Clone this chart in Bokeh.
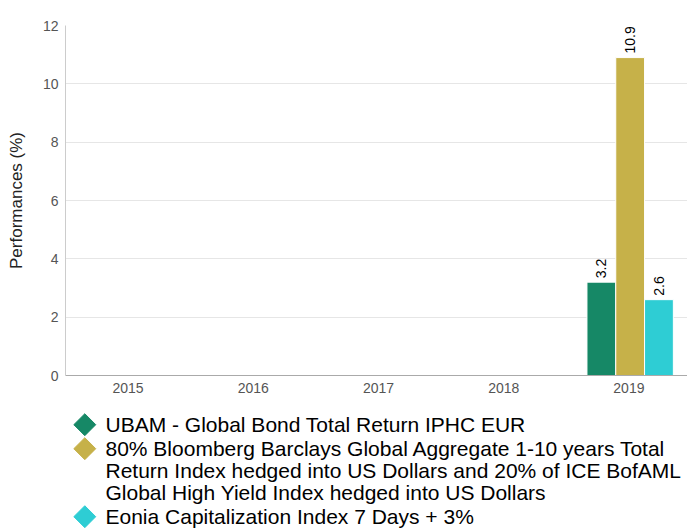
import math
from bokeh.plotting import figure
from bokeh.layouts import column
from bokeh.models import ColumnDataSource, Range1d, FixedTicker
from bokeh.transform import dodge
from bokeh.embed import file_html
from bokeh.resources import INLINE

years = ["2015", "2016", "2017", "2018", "2019"]
ubam = [float("nan"), float("nan"), float("nan"), float("nan"), 3.2]
bench = [float("nan"), float("nan"), float("nan"), float("nan"), 10.9]
eonia = [float("nan"), float("nan"), float("nan"), float("nan"), 2.6]
series_names = [
    "UBAM - Global Bond Total Return IPHC EUR",
    "80% Bloomberg Barclays Global Aggregate 1-10 years Total\nReturn Index hedged into US Dollars and 20% of ICE BofAML\nGlobal High Yield Index hedged into US Dollars",
    "Eonia Capitalization Index 7 Days + 3%",
]
colors = ["#168866", "#c6b149", "#2ecdd4"]
y_ticks = [0, 2, 4, 6, 8, 10, 12]

def lab(vals):
    return ["" if math.isnan(v) else f"{v:.1f}" for v in vals]

xpos = [i + 0.5 for i in range(len(years))]
src = ColumnDataSource(dict(
    x=xpos, year=years, ubam=ubam, bench=bench, eonia=eonia,
    ubam_l=lab(ubam), bench_l=lab(bench), eonia_l=lab(eonia),
))

FONT = "Liberation Sans"
LEFT = 65
W = 687

p = figure(
    width=W, height=405, x_range=Range1d(0, 4.968),
    y_range=Range1d(0, 12), output_backend="svg", toolbar_location=None,
    min_border_left=LEFT, min_border_right=0, min_border_top=25, min_border_bottom=30,
)
p.outline_line_color = None

w = 0.23
offs = [-0.22, 0.01, 0.24]
keys = ["ubam", "bench", "eonia"]
for k, off, c in zip(keys, offs, colors):
    p.vbar(x=dodge("x", off), top=k, width=w, source=src,
           fill_color=c, line_color="white", line_width=1)
    p.text(x=dodge("x", off), y=k, text=k + "_l", source=src,
           angle=math.pi / 2, text_align="left", text_baseline="middle",
           x_offset=0, y_offset=-4, text_font_size="14px", text_color="#000000",
           text_font={"value": FONT})

p.xaxis.ticker = FixedTicker(ticks=xpos)
p.xaxis.major_label_overrides = {x: y for x, y in zip(xpos, years)}
p.xaxis.major_label_text_font = FONT
p.xaxis.major_label_text_font_size = "14px"
p.xaxis.major_label_text_color = "#555555"
p.xaxis.major_tick_line_color = None
p.xaxis.major_tick_out = 0
p.xaxis.major_tick_in = 0
p.xaxis.minor_tick_line_color = None
p.xaxis.axis_line_color = "#aaaaaa"
p.xaxis.major_label_standoff = 7

p.yaxis.ticker = FixedTicker(ticks=y_ticks)
p.yaxis.major_label_text_font = FONT
p.yaxis.major_label_text_font_size = "14px"
p.yaxis.major_label_text_color = "#555555"
p.yaxis.major_tick_line_color = None
p.yaxis.major_tick_out = 0
p.yaxis.major_tick_in = 0
p.yaxis.minor_tick_line_color = None
p.yaxis.axis_line_color = "#cccccc"
p.yaxis.major_label_standoff = 7
p.yaxis.axis_label = "Performances (%)"
p.yaxis.axis_label_text_font = FONT
p.yaxis.axis_label_text_font_size = "17px"
p.yaxis.axis_label_text_font_style = "normal"
p.yaxis.axis_label_text_color = "#222222"
p.yaxis.axis_label_text_line_height = 0.6
p.yaxis.axis_label_standoff = 14

p.xgrid.grid_line_color = None
p.ygrid.grid_line_color = "#e6e6e6"

# legend panel (pixel-like units: x from page left, y from top of the panel)
LG_H = 123
lg = figure(width=W, height=LG_H, x_range=Range1d(LEFT, W), y_range=Range1d(LG_H, 0),
            x_axis_type=None, y_axis_type=None,
            output_backend="svg", toolbar_location=None,
            min_border_left=LEFT, min_border_right=0, min_border_top=0, min_border_bottom=0)
lg.grid.visible = False
lg.outline_line_color = None

first_mid, line_step, item_step = 19.2, 22.0, 24.0
mk_x, txt_x = 84.3, 105
line_txt, line_y, mk_y, mk_c = [], [], [], []
ym = first_mid
for name, c in zip(series_names, colors):
    parts = name.split("\n")
    mk_y.append(ym)
    mk_c.append(c)
    for j, t in enumerate(parts):
        line_txt.append(t)
        line_y.append(ym)
        ym += line_step if j < len(parts) - 1 else item_step

lg.scatter(x=[mk_x] * len(mk_y), y=mk_y, marker="square", angle=math.pi / 4,
           size=15.5, fill_color=mk_c, line_color=mk_c)
lg.text(x=[txt_x] * len(line_y), y=line_y, text=line_txt, text_align="left",
        text_baseline="middle", text_font_size="21px", text_color="#000000",
        text_font={"value": FONT})

layout = column(p, lg, spacing=0)
open("out.html", "w").write(file_html(layout, INLINE))
